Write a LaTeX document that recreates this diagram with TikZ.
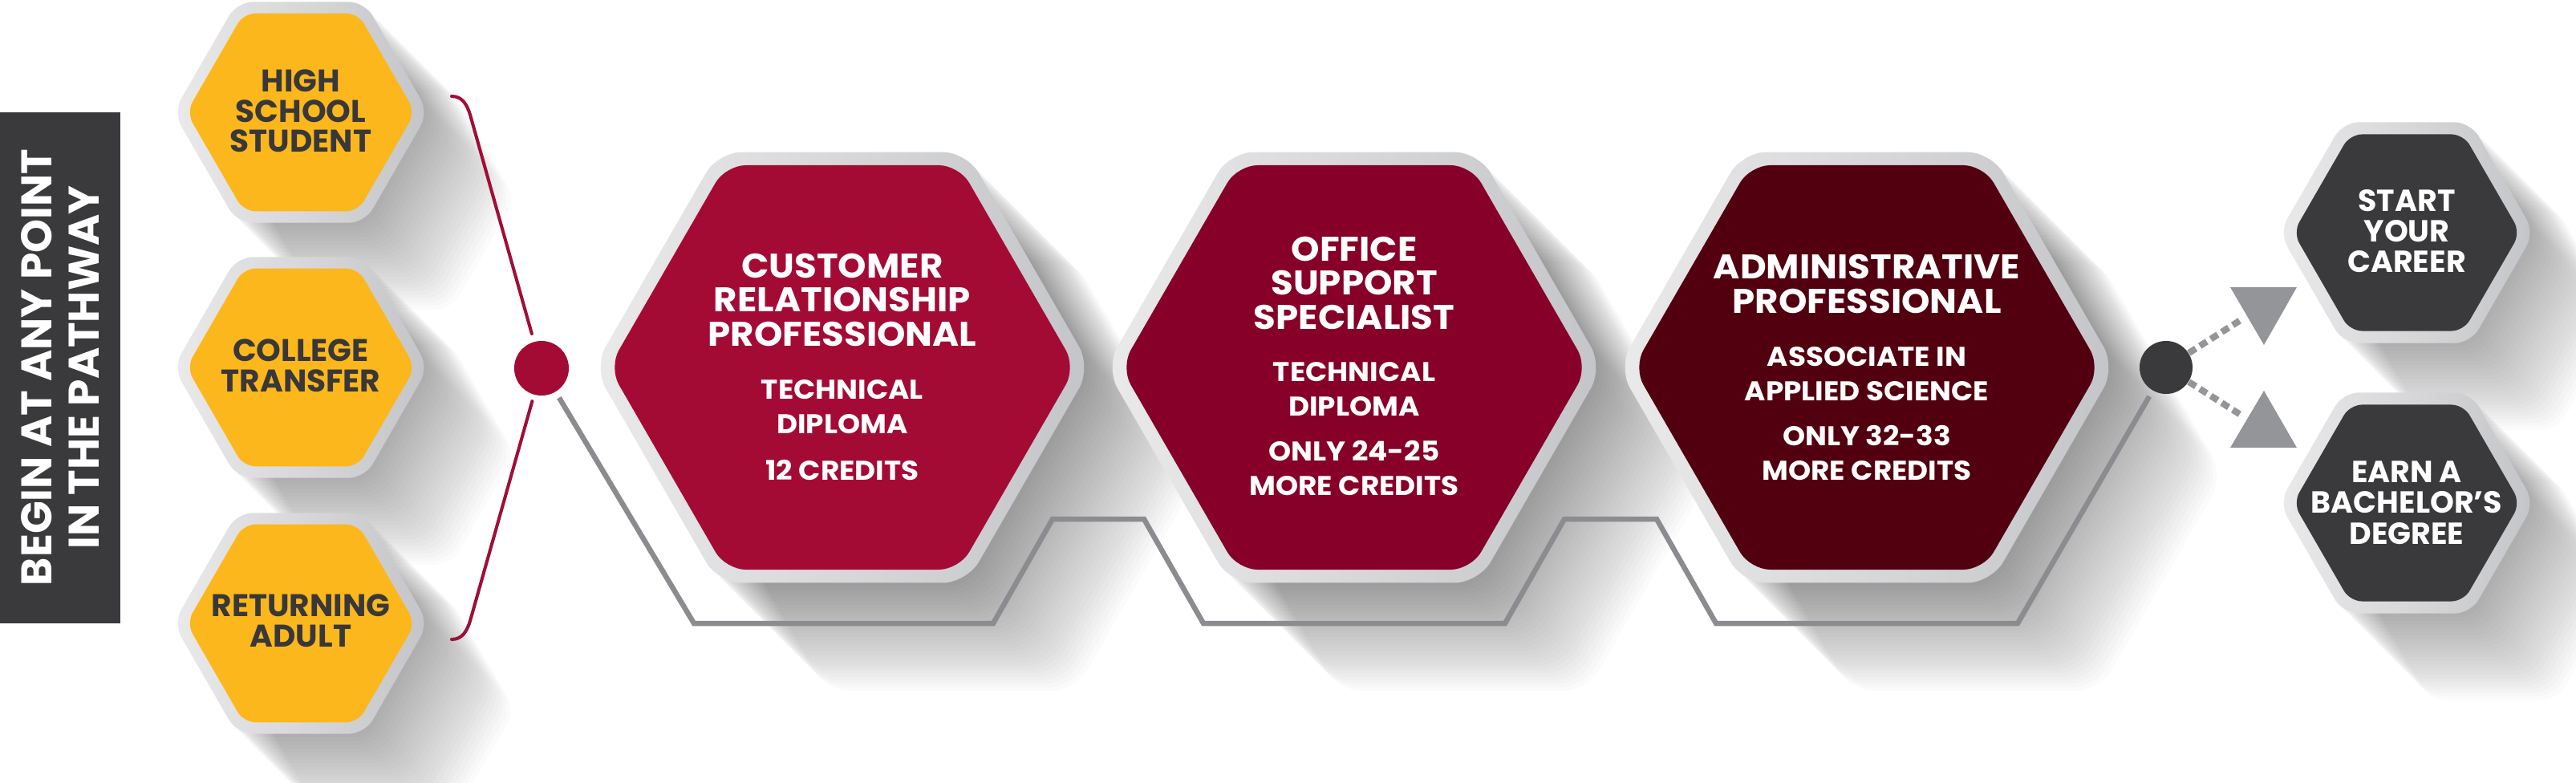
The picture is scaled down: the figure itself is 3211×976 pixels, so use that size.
\documentclass[tikz,border=0pt]{standalone}
\usepackage{fontspec}
\setmainfont{Poppins}
\newfontfamily\pop{Poppins}
\newfontfamily\popw{Poppins}[FakeStretch=1.06]
\definecolor{yel}{RGB}{252,183,28}
\definecolor{redA}{RGB}{163,11,53}
\definecolor{redB}{RGB}{134,0,41}
\definecolor{redC}{RGB}{82,0,15}
\definecolor{darkc}{RGB}{58,58,60}
\definecolor{txtdark}{RGB}{56,56,58}
\definecolor{rimL}{RGB}{234,234,235}
\definecolor{rimR}{RGB}{196,197,200}
\definecolor{lineg}{RGB}{139,140,143}
\definecolor{trig}{RGB}{147,149,152}
\definecolor{redline}{RGB}{160,14,56}
\newcommand{\hexp}[3]{({#1-#3},{#2}) -- ({#1-0.5*#3},{#2-0.866*#3}) -- ({#1+0.5*#3},{#2-0.866*#3}) -- ({#1+#3},{#2}) -- ({#1+0.5*#3},{#2+0.866*#3}) -- ({#1-0.5*#3},{#2+0.866*#3}) -- cycle}
\tikzset{
  ytext/.style={text=txtdark, align=center, inner sep=0pt, anchor=base,
    font=\pop\bfseries\fontsize{11.1pt}{10.67pt}\selectfont},
  dtext/.style={text=white, align=center, inner sep=0pt, anchor=base,
    font=\pop\bfseries\fontsize{10.8pt}{10.81pt}\selectfont},
  rtitle/.style={text=white, align=center, inner sep=0pt, anchor=base,
    font=\popw\bfseries\fontsize{12.1pt}{11.95pt}\selectfont},
  rsub/.style={text=white, align=center, inner sep=0pt, anchor=base,
    font=\popw\bfseries\fontsize{9.6pt}{11.95pt}\selectfont},
  vtext/.style={text=white, align=center, inner sep=0pt,
    font=\pop\bfseries\fontsize{15.2pt}{16.8pt}\selectfont},
  shadowcopy/.style={fill=black, opacity=0.015},
  grayline/.style={draw=lineg, line width=1.85pt, line join=miter},
  redconn/.style={draw=redline, line width=1.15pt, line cap=round},
  dashconn/.style={draw=trig, line width=2.3pt, dash pattern=on 2.9pt off 1.7pt},
  dotnode/.style={circle, inner sep=0pt},
}
\begin{document}
\begin{tikzpicture}[x=0.01cm,y=-0.01cm]
\useasboundingbox (0,0) rectangle (3211,976);

% ---------- long soft shadows ----------
\foreach \cx/\cy in {375/140,375/458,375/777,3000/290,3000/627}{
  \foreach \k in {1,...,24}{
    \fill[shadowcopy, rounded corners=0.2cm] \hexp{\cx+4.5*\k}{\cy+4.5*\k}{159};
  }
}
\foreach \cx in {1050,1688,2327}{
  \foreach \k in {1,...,30}{
    \fill[shadowcopy, rounded corners=0.3cm] \hexp{\cx+4.5*\k}{458+4.5*\k}{310};
  }
}

% ---------- left label box ----------
\fill[darkc] (0,140) rectangle (150,777);
\node[vtext, rotate=90] (begin) at (75,458) {BEGIN AT ANY POINT\\IN THE PATHWAY};

% ---------- yellow hexagons ----------
\foreach \cy in {140,458,777}{
  \shade[left color=rimL, right color=rimR, rounded corners=0.2cm] \hexp{375}{\cy}{159};
  \fill[yel, rounded corners=0.15cm] \hexp{375}{\cy}{142.5};
}
\coordinate (hs) at (375,140);
\coordinate (ct) at (375,458);
\coordinate (ra) at (375,777);
\node[ytext] (hs-t) at (375,190) {HIGH\\SCHOOL\\STUDENT};
\node[ytext] (ct-t) at (375,488) {COLLEGE\\TRANSFER};
\node[ytext] (ra-t) at (375,806) {RETURNING\\ADULT};

% ---------- red hexagons ----------
\foreach \cx/\col in {1050/redA,1688/redB,2327/redC}{
  \shade[left color=rimL, right color=rimR, rounded corners=0.3cm] \hexp{\cx}{458}{310};
  \fill[\col, rounded corners=0.25cm] \hexp{\cx}{458}{291};
}
\coordinate (crp) at (1050,458);
\coordinate (oss) at (1688,458);
\coordinate (adm) at (2327,458);
\node[rtitle] (crp-t) at (1050,431) {CUSTOMER\\RELATIONSHIP\\PROFESSIONAL};
\node[rsub] (crp-s1) at (1050,540) {TECHNICAL\\DIPLOMA};
\node[rsub] (crp-s2) at (1050,598) {12 CREDITS};
\node[rtitle] (oss-t) at (1688,410) {OFFICE\\SUPPORT\\SPECIALIST};
\node[rsub] (oss-s1) at (1688,518) {TECHNICAL\\DIPLOMA};
\node[rsub] (oss-s2) at (1688,617) {ONLY 24-25\\MORE CREDITS};
\node[rtitle] (adm-t) at (2327,390) {ADMINISTRATIVE\\PROFESSIONAL};
\node[rsub] (adm-s1) at (2327,499) {ASSOCIATE IN\\APPLIED SCIENCE};
\node[rsub] (adm-s2) at (2327,598) {ONLY 32-33\\MORE CREDITS};

% ---------- dark hexagons ----------
\foreach \cy in {290,627}{
  \shade[left color=rimL, right color=rimR, rounded corners=0.2cm] \hexp{3000}{\cy}{159};
  \fill[darkc, rounded corners=0.15cm] \hexp{3000}{\cy}{141.5};
}
\coordinate (car) at (3000,290);
\coordinate (bach) at (3000,627);
\node[dtext] (car-t) at (3000,340) {START\\YOUR\\CAREER};
\node[dtext] (bach-t) at (3000,678) {EARN A\\BACHELOR’S\\DEGREE};

% ---------- dots ----------
\node[dotnode, fill=redA, minimum size=0.68cm] (rdot) at (675,459) {};
\node[dotnode, fill=darkc, minimum size=0.66cm] (ddot) at (2700,458) {};

% ---------- red bracket ----------
\coordinate (bt) at (563,120);
\coordinate (bb) at (563,797);
\draw[redconn, shorten >=0.1cm] (bt) .. controls (576,120) and (582,130) .. (586,143) -- (rdot);
\draw[redconn, shorten <=0.08cm] (rdot) -- (586,774) .. controls (582,787) and (576,797) .. (bb);

% ---------- gray pathway line ----------
\draw[grayline, shorten <=0.08cm, shorten >=0.08cm]
  (rdot) -- (865,777) -- (1238,777) -- (1312,647) -- (1426,647) -- (1500,777)
  -- (1876,777) -- (1950,647) -- (2065,647) -- (2139,777) -- (2515,777) -- (ddot);

% ---------- arrows to outcomes ----------
\fill[trig] (2780,358) -- (2863,358) -- (2822,430) -- cycle;
\fill[trig] (2822,487) -- (2863,558) -- (2780,558) -- cycle;
\coordinate (tu) at (2796,397);
\coordinate (tl) at (2796,519);
\draw[dashconn] (ddot) -- (tu);
\draw[dashconn] (ddot) -- (tl);
\end{tikzpicture}
\end{document}
